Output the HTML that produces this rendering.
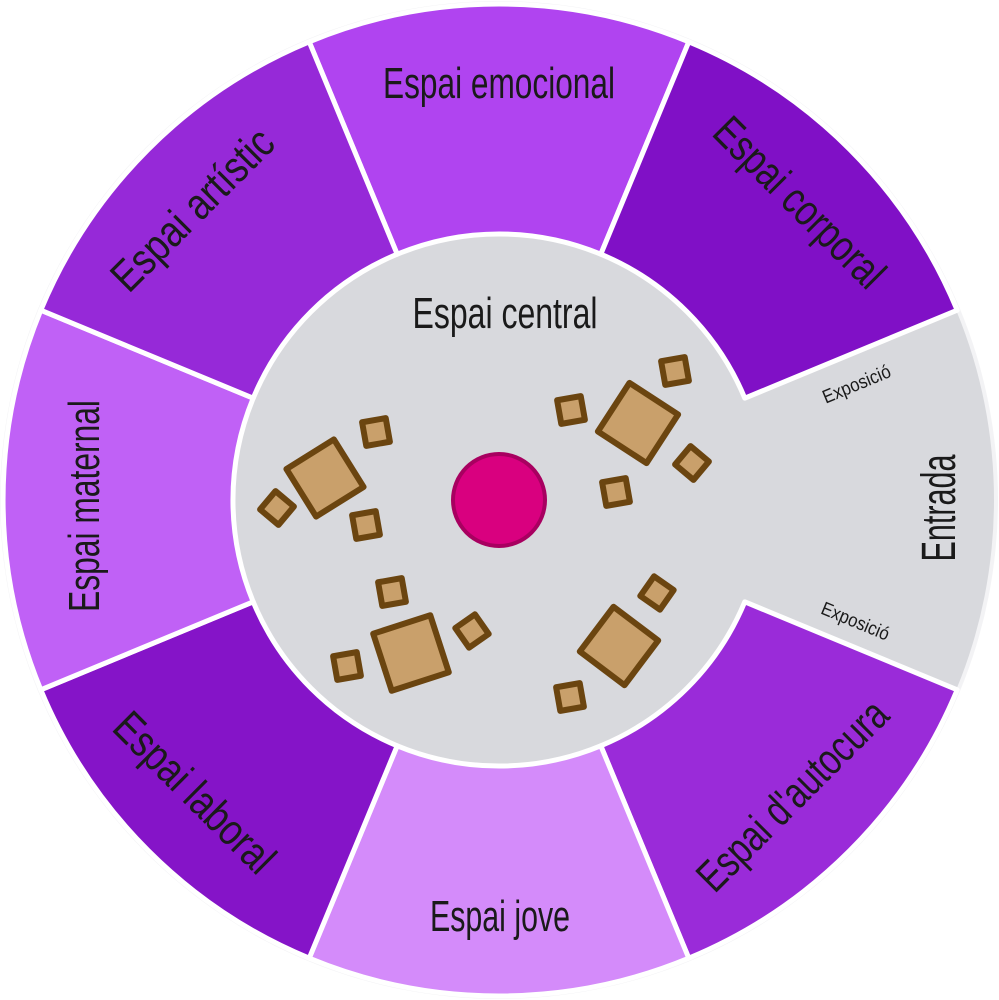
<!DOCTYPE html>
<html><head><meta charset="utf-8"><style>
html,body{margin:0;padding:0;background:#fff;}
svg{display:block;}
text{font-family:"Liberation Sans Narrow","Liberation Sans",sans-serif;fill:#1a1a1a;}
</style></head><body>
<svg width="999" height="1000" viewBox="0 0 999 1000" xmlns="http://www.w3.org/2000/svg">
<circle cx="499" cy="500" r="499" fill="#f3f3f5"/>
<circle cx="499" cy="500" r="495" fill="#d8d9dd"/>
<g stroke="#fff" stroke-width="5" stroke-linejoin="round">
<path d="M309.2,41.8 A496,496 0 0 1 688.8,41.8 L600.8,254.2 A266,266 0 0 0 397.2,254.2 Z" fill="#b044f0"/>
<path d="M309.2,41.8 A496,496 0 0 1 688.8,41.8 L600.8,254.2 A266,266 0 0 0 397.2,254.2 Z" fill="#8010c6" transform="rotate(45 499 500)"/>
<path d="M309.2,41.8 A496,496 0 0 1 688.8,41.8 L600.8,254.2 A266,266 0 0 0 397.2,254.2 Z" fill="#9a2bd9" transform="rotate(135 499 500)"/>
<path d="M309.2,41.8 A496,496 0 0 1 688.8,41.8 L600.8,254.2 A266,266 0 0 0 397.2,254.2 Z" fill="#d48bfa" transform="rotate(180 499 500)"/>
<path d="M309.2,41.8 A496,496 0 0 1 688.8,41.8 L600.8,254.2 A266,266 0 0 0 397.2,254.2 Z" fill="#8514c8" transform="rotate(225 499 500)"/>
<path d="M309.2,41.8 A496,496 0 0 1 688.8,41.8 L600.8,254.2 A266,266 0 0 0 397.2,254.2 Z" fill="#c061f6" transform="rotate(270 499 500)"/>
<path d="M309.2,41.8 A496,496 0 0 1 688.8,41.8 L600.8,254.2 A266,266 0 0 0 397.2,254.2 Z" fill="#9629d8" transform="rotate(315 499 500)"/>
</g>
<circle cx="499" cy="500" r="46" fill="#d9007f" stroke="#a80060" stroke-width="4"/>
<g fill="#c9a06b" stroke="#6b4510" stroke-width="6" stroke-linejoin="round">
<rect x="-28" y="-28" width="56" height="56" transform="translate(325,478) rotate(-32)"/>
<rect x="-29" y="-29" width="58" height="58" transform="translate(638,423) rotate(33)"/>
<rect x="-30" y="-30" width="60" height="60" transform="translate(411,653) rotate(-18)"/>
<rect x="-28" y="-28" width="56" height="56" transform="translate(619,646) rotate(37)"/>
<rect x="-12" y="-12" width="24" height="24" transform="translate(376,432) rotate(-10)"/>
<rect x="-12" y="-12" width="24" height="24" transform="translate(277,508) rotate(40)"/>
<rect x="-12" y="-12" width="24" height="24" transform="translate(366,525) rotate(-10)"/>
<rect x="-12" y="-12" width="24" height="24" transform="translate(571,410) rotate(-10)"/>
<rect x="-12" y="-12" width="24" height="24" transform="translate(675,371) rotate(-10)"/>
<rect x="-12" y="-12" width="24" height="24" transform="translate(692,463) rotate(40)"/>
<rect x="-12" y="-12" width="24" height="24" transform="translate(616,492) rotate(-10)"/>
<rect x="-12" y="-12" width="24" height="24" transform="translate(392,592) rotate(-10)"/>
<rect x="-12" y="-12" width="24" height="24" transform="translate(472,631) rotate(-35)"/>
<rect x="-12" y="-12" width="24" height="24" transform="translate(347,666) rotate(-10)"/>
<rect x="-12" y="-12" width="24" height="24" transform="translate(657,593) rotate(35)"/>
<rect x="-12" y="-12" width="24" height="24" transform="translate(570,697) rotate(-10)"/>
</g>
<g font-size="44" text-anchor="middle">
<text x="499" y="98" textLength="232" lengthAdjust="spacingAndGlyphs">Espai emocional</text>
<text x="505" y="328" textLength="185" lengthAdjust="spacingAndGlyphs">Espai central</text>
<text x="500" y="931" textLength="140" lengthAdjust="spacingAndGlyphs">Espai jove</text>
<text transform="translate(99,506) rotate(-90)" textLength="212" lengthAdjust="spacingAndGlyphs">Espai maternal</text>
<text transform="translate(955,508) rotate(-90)" font-size="48" textLength="107" lengthAdjust="spacingAndGlyphs">Entrada</text>
<text transform="translate(203,220) rotate(-45)" textLength="210" lengthAdjust="spacingAndGlyphs">Espai artístic</text>
<text transform="translate(789,213) rotate(45)" textLength="222" lengthAdjust="spacingAndGlyphs">Espai corporal</text>
<text transform="translate(184,803) rotate(45)" textLength="208" lengthAdjust="spacingAndGlyphs">Espai laboral</text>
<text transform="translate(803,806) rotate(-45)" textLength="250" lengthAdjust="spacingAndGlyphs">Espai d'autocura</text>
</g>
<g font-size="19" text-anchor="middle">
<text transform="translate(859,390) rotate(-22.5)" textLength="72" lengthAdjust="spacingAndGlyphs">Exposició</text>
<text transform="translate(853,627) rotate(22.5)" textLength="72" lengthAdjust="spacingAndGlyphs">Exposició</text>
</g>
</svg>
</body></html>
